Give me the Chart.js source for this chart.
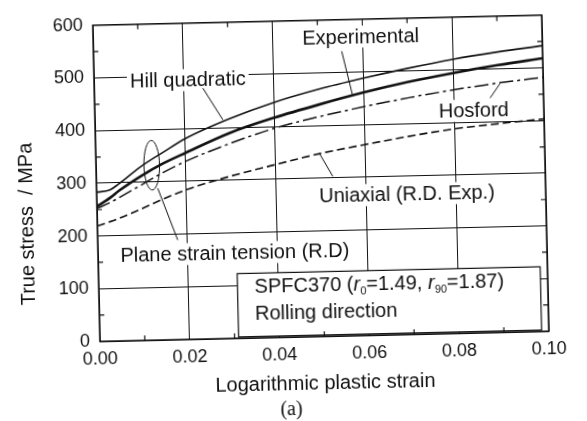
<!DOCTYPE html>
<html>
<head>
<meta charset="utf-8">
<script src="https://cdn.jsdelivr.net/npm/chart.js@4"></script>
<style>
  html, body { margin: 0; padding: 0; background: #fff; overflow: hidden; }
  #wrap { width: 587px; height: 421px; }
  /* the scan is slightly tilted */
  #chart { transform: rotate(-1.3deg); }
</style>
</head>
<body>
<div id="wrap"><canvas id="chart" width="587" height="421"></canvas></div>
<script>
// strain values (x) and true stress curves (MPa)
const strain       = [0, 0.003, 0.005, 0.01, 0.015, 0.02, 0.03, 0.04, 0.05, 0.06, 0.07, 0.08, 0.09, 0.10];
const hillQuad     = [283, 287, 298, 330, 356, 381, 417, 446, 469, 488, 505, 520, 532, 542];
const experimental = [256, 272, 285, 312, 335, 354, 390, 417, 440, 461, 479, 494, 507, 518];
const hosford      = [252, 263, 272, 295, 318, 338, 370, 397, 417, 434, 449, 462, 473, 482];
const uniaxial     = [219, 227, 233, 250, 268, 284, 308, 328, 347, 362, 376, 388, 396, 403];

const xTicks = [0, 0.02, 0.04, 0.06, 0.08, 0.10];
const yTicks = [0, 100, 200, 300, 400, 500, 600];

const INK = '#111';
const SANS = "'Liberation Sans', Arial, sans-serif";

function pts(ys) {
    return strain.map((s, i) => ({ x: s, y: ys[i] }));
}

// annotations: labels, leaders, ellipse, info box, axis titles, minor ticks
const annot = {
    id: 'annot',
    afterDatasetsDraw(chart) {
        const { ctx, chartArea: a, scales: { x, y } } = chart;
        const px = u => x.getPixelForValue(u);
        const py = v => y.getPixelForValue(v);
        ctx.save();
        ctx.strokeStyle = INK;
        ctx.fillStyle = INK;

        // frame
        ctx.lineWidth = 1.5;
        ctx.strokeRect(a.left, a.top, a.right - a.left, a.bottom - a.top);

        function line(u1, v1, u2, v2) {
            ctx.lineWidth = 1;
            ctx.beginPath();
            ctx.moveTo(px(u1), py(v1));
            ctx.lineTo(px(u2), py(v2));
            ctx.stroke();
        }
        function label(text, u, v) {
            ctx.font = '20px ' + SANS;
            const w = ctx.measureText(text).width;
            const cx = px(u), cy = py(v);
            ctx.fillStyle = '#fff';
            ctx.fillRect(cx - w / 2 - 3, cy - 11, w + 6, 22);
            ctx.fillStyle = INK;
            ctx.textAlign = 'center';
            ctx.textBaseline = 'middle';
            ctx.fillText(text, cx, cy + 1);
        }

        label('Experimental', 0.0596, 567);
        line(0.0553, 540, 0.0575, 456);
        label('Hill quadratic', 0.0209, 492);
        line(0.0242, 476, 0.0285, 415);
        label('Hosford', 0.0844, 422);
        line(0.0881, 445, 0.0904, 472);
        label('Uniaxial (R.D. Exp.)', 0.0691, 266);
        line(0.0527, 303, 0.0499, 346);
        label('Plane strain tension (R.D)', 0.0305, 162);
        line(0.01784, 189, 0.01365, 288);

        // ellipse around the curves near 0.012
        const ex = px(0.01243), ey = py(332);
        ctx.lineWidth = 1;
        ctx.beginPath();
        ctx.ellipse(ex, ey, px(0.01243 + 0.00174) - ex, py(332 - 47) - ey, 0, 0, Math.PI * 2);
        ctx.stroke();

        // info box
        const bx1 = px(0.0309), bx2 = px(0.0984), by1 = py(122.6), by2 = py(2.6);
        ctx.fillStyle = '#fff';
        ctx.fillRect(bx1, by1, bx2 - bx1, by2 - by1);
        ctx.lineWidth = 1.2;
        ctx.strokeRect(bx1, by1, bx2 - bx1, by2 - by1);
        ctx.fillStyle = INK;
        ctx.textAlign = 'left';
        ctx.textBaseline = 'middle';
        let tx = px(0.0347);
        const ty = py(98);
        const parts = [
            ['SPFC370 (', '20px ' + SANS, 0],
            ['r', 'italic 20px ' + SANS, 0],
            ['0', '11px ' + SANS, 7],
            ['=1.49, ', '20px ' + SANS, 0],
            ['r', 'italic 20px ' + SANS, 0],
            ['90', '11px ' + SANS, 7],
            ['=1.87)', '20px ' + SANS, 0]
        ];
        parts.forEach(([t, f, dy]) => {
            ctx.font = f;
            ctx.fillText(t, tx, ty + 1 + dy);
            tx += ctx.measureText(t).width;
        });
        ctx.font = '20px ' + SANS;
        ctx.fillText('Rolling direction', px(0.0347), py(47) + 1);

        // minor ticks, pointing inward
        ctx.lineWidth = 1.2;
        ctx.beginPath();
        for (let v = 50; v < 600; v += 100) {
            ctx.moveTo(a.left, py(v)); ctx.lineTo(a.left + 5, py(v));
            ctx.moveTo(a.right, py(v)); ctx.lineTo(a.right - 5, py(v));
        }
        for (let u = 0.01; u < 0.1; u += 0.02) {
            ctx.moveTo(px(u), a.bottom); ctx.lineTo(px(u), a.bottom - 5);
            ctx.moveTo(px(u), a.top); ctx.lineTo(px(u), a.top + 5);
        }
        ctx.stroke();

        // axis titles
        ctx.font = '20px ' + SANS;
        ctx.textAlign = 'center';
        ctx.textBaseline = 'middle';
        ctx.fillText('Logarithmic plastic strain', (a.left + a.right) / 2, 384);
        ctx.save();
        ctx.translate(27, 218);
        ctx.rotate(-Math.PI / 2);
        ctx.fillText('True stress  / MPa', 0, 0);
        ctx.restore();
        ctx.font = "20px 'Liberation Serif', 'Times New Roman', serif";
        ctx.fillText('(a)', 287, 410);

        ctx.restore();
    }
};

new Chart(document.getElementById('chart'), {
    type: 'line',
    data: {
        datasets: [
            { label: 'Hill quadratic', data: pts(hillQuad), borderColor: INK, borderWidth: 1.6 },
            { label: 'Experimental', data: pts(experimental), borderColor: INK, borderWidth: 2.6 },
            { label: 'Hosford', data: pts(hosford), borderColor: INK, borderWidth: 1.5, borderDash: [14, 4, 3, 4] },
            { label: 'Uniaxial (R.D. Exp.)', data: pts(uniaxial), borderColor: INK, borderWidth: 1.6, borderDash: [8, 4] }
        ]
    },
    options: {
        responsive: false,
        animation: false,
        cubicInterpolationMode: 'monotone',
        elements: { point: { radius: 0 } },
        layout: { padding: { top: 14, right: 41, left: 0, bottom: 0 } },
        plugins: { legend: { display: false }, tooltip: { enabled: false } },
        scales: {
            x: {
                type: 'linear',
                min: 0, max: 0.1,
                afterBuildTicks: s => { s.ticks = xTicks.map(v => ({ value: v })); },
                afterFit: s => { s.height = 84; },
                grid: { color: INK, lineWidth: 1, drawTicks: false },
                border: { display: false },
                ticks: {
                    color: INK, padding: 7, maxRotation: 0, autoSkip: false,
                    font: { family: SANS, size: 18 },
                    callback: v => v.toFixed(2)
                }
            },
            y: {
                min: 0, max: 600,
                afterBuildTicks: s => { s.ticks = yTicks.map(v => ({ value: v })); },
                afterFit: s => { s.width = 97; },
                grid: { color: INK, lineWidth: 1, drawTicks: false },
                border: { display: false },
                ticks: {
                    color: INK, padding: 10,
                    font: { family: SANS, size: 18 }
                }
            }
        }
    },
    plugins: [annot]
});
</script>
</body>
</html>
